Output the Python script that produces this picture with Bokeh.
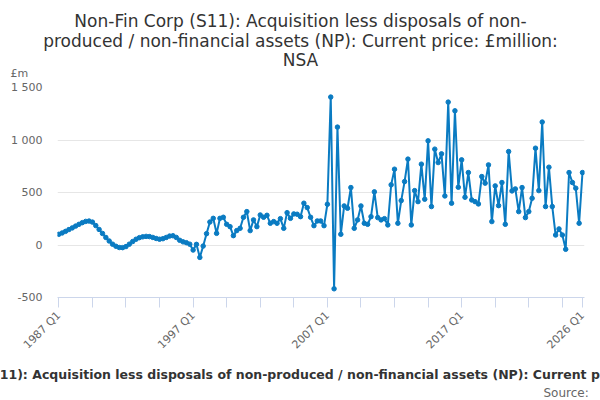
from math import pi
from bokeh.plotting import figure
from bokeh.layouts import column
from bokeh.models import Range1d, FixedTicker
from bokeh.core.properties import value
from bokeh.embed import file_html
from bokeh.resources import INLINE

# texts
title_lines = ["Non-Fin Corp (S11): Acquisition less disposals of non-",
               "produced / non-financial assets (NP): Current price: £million:",
               "NSA"]
footer_text = ("Non-Fin Corp (S11): Acquisition less disposals of non-produced / "
               "non-financial assets (NP): Current price: £million: NSA")
source_text = "Source:"
unit_text = "£m"

# one label per quarter, 1987 Q1 .. 2026 Q1
quarters = ["%d Q%d" % (yr, q) for yr in range(1987, 2027) for q in range(1, 5)][:157]

# £million
values = [
    102, 115, 130, 147, 163, 180, 197, 213, 225, 228,
    218, 185, 148, 110, 72, 38, 8, -12, -24, -25,
    -15, 8, 33, 55, 70, 78, 82, 80, 72, 62,
    55, 60, 72, 85, 88, 72, 45, 30, 22, 8,
    -48, 6, -118, -10, 108, 219, 254, 111, 254, 264,
    197, 175, 89, 137, 159, 264, 318, 137, 239, 175,
    286, 264, 283, 207, 223, 207, 251, 159, 308, 254,
    296, 293, 270, 398, 356, 264, 184, 229, 229, 184,
    388, 1409, -417, 1123, 102, 372, 350, 547, 159, 239,
    372, 207, 197, 270, 506, 261, 239, 251, 191, 573,
    722, 207, 423, 604, 818, 191, 518, 413, 770, 436,
    992, 366, 913, 785, 868, 467, 1361, 398, 1278, 550,
    811, 455, 690, 429, 413, 391, 652, 589, 763, 223,
    563, 375, 595, 197, 890, 515, 534, 318, 547, 261,
    318, 445, 922, 518, 1171, 366, 741, 366, 95, 153,
    95, -41, 690, 595, 541, 207, 690,
]

y_ticks = [-500, 0, 500, 1000, 1500]
y_tick_labels = ["-500", "0", "500", "1 000", "1 500"]
x_tick_labels = ["1987 Q1", "1997 Q1", "2007 Q1", "2017 Q1", "2026 Q1"]

FONT = "DejaVu Sans"
BLUE = "#0a7bc2"

# page pixels: text strip on top, chart, text strip at the bottom
TOP_H, CHART_H, FOOT_H = 80, 285, 35
LEFT, RIGHT, TOP, BOTTOM = 57, 584, 87, 297


def text_strip(height, y0):
    # a bare figure whose data units are page pixels (y grows downwards)
    f = figure(width=600, height=height, title=None, output_backend="svg",
               toolbar_location=None, x_range=Range1d(0, 600),
               y_range=Range1d(y0 + height, y0), min_border=0,
               x_axis_type=None, y_axis_type=None, frame_align=False)
    f.grid.visible = False
    f.outline_line_color = None
    return f


head = text_strip(TOP_H, 0)
head.text(x=[300] * len(title_lines), y=[20.5, 40, 59.5], text=title_lines,
          text_align="center", text_baseline="middle",
          text_font=value(FONT), text_font_size="17px", text_color="#333333")
head.text(x=[10], y=[73], text=[unit_text], text_baseline="middle",
          text_font=value(FONT), text_font_size="11px", text_color="#666666")

xs = list(range(len(values)))

p = figure(width=600, height=CHART_H, title=None, output_backend="svg",
           toolbar_location=None, x_range=Range1d(-0.4, 156.6),
           y_range=Range1d(-500, 1500), frame_align=False,
           min_border_left=LEFT, min_border_right=600 - RIGHT,
           min_border_top=TOP - TOP_H,
           min_border_bottom=TOP_H + CHART_H - BOTTOM)
p.outline_line_color = None

p.line(xs, values, line_color=BLUE, line_width=2)
p.scatter(xs, values, size=4.5, fill_color=BLUE, line_color=BLUE)

# y axis
p.yaxis.ticker = FixedTicker(ticks=y_ticks)
p.yaxis.major_label_overrides = dict(zip(y_ticks, y_tick_labels))
p.yaxis.axis_line_color = None
p.yaxis.major_tick_line_color = None
p.yaxis.major_tick_out = 0
p.yaxis.major_tick_in = 0
p.yaxis.minor_tick_line_color = None
p.yaxis.major_label_standoff = 15
p.yaxis.major_label_text_font = FONT
p.yaxis.major_label_text_font_size = "11px"
p.yaxis.major_label_text_color = "#666666"
p.ygrid.ticker = FixedTicker(ticks=y_ticks)
p.ygrid.grid_line_color = "#e6e6e6"
p.xgrid.grid_line_color = None

# x axis: a tick every 10 quarters, label every 40 and on the last one
x_ticks = list(range(0, len(values), 10)) + [len(values) - 1]
overrides = {}
for t in x_ticks:
    overrides[t] = quarters[t] if quarters[t] in x_tick_labels else ""
p.xaxis.ticker = FixedTicker(ticks=x_ticks)
p.xaxis.major_label_overrides = overrides
p.xaxis.axis_line_color = "#ccd6eb"
p.xaxis.major_tick_line_color = "#ccd6eb"
p.xaxis.major_tick_out = 10
p.xaxis.major_tick_in = 0
p.xaxis.minor_tick_line_color = None
p.xaxis.major_label_orientation = pi / 4
p.xaxis.major_label_standoff = 6
p.xaxis.major_label_text_font = FONT
p.xaxis.major_label_text_font_size = "11px"
p.xaxis.major_label_text_color = "#666666"

# the footer is wider than the page, as in the original
foot = text_strip(FOOT_H, TOP_H + CHART_H)
foot.text(x=[309], y=[374], text=[footer_text], text_align="center",
          text_baseline="middle", text_font=value(FONT), text_font_size="12.5px",
          text_font_style="bold", text_color="#333333")
foot.text(x=[543], y=[392], text=[source_text], text_baseline="middle",
          text_font=value(FONT), text_font_size="12px", text_color="#666666")

page = column(head, p, foot, spacing=0)
open("out.html", "w").write(file_html(page, INLINE))
